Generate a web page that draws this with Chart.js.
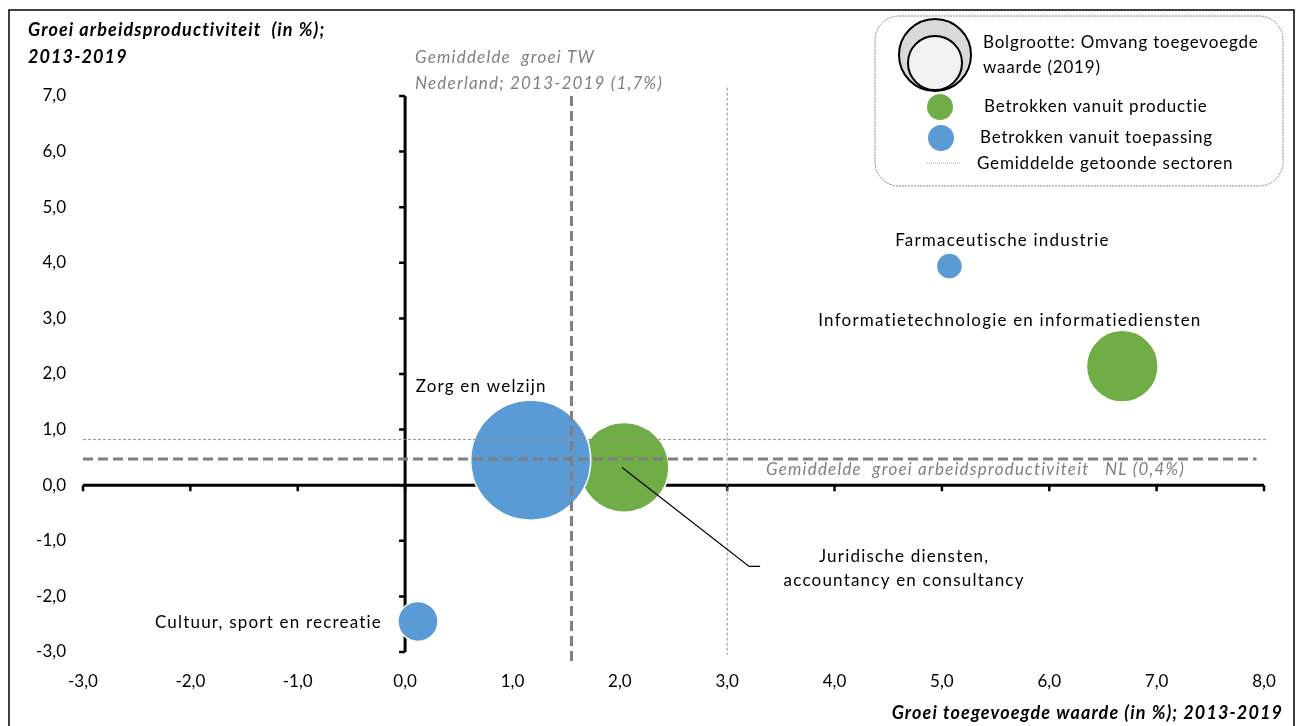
<!DOCTYPE html>
<html>
<head>
<meta charset="utf-8">
<script src="https://cdn.jsdelivr.net/npm/chart.js@4.4.1/dist/chart.umd.min.js"></script>
<style>
  html, body { margin: 0; padding: 0; background: #fff; }
  #wrap { width: 1300px; height: 726px; }
</style>
</head>
<body>
<div id="wrap"><canvas id="bubbleChart" width="1300" height="726"></canvas></div>
<script>
// data: groei 2013-2019 per sector
const sectoren = ['Cultuur, sport en recreatie', 'Zorg en welzijn', 'Juridische diensten, accountancy en consultancy', 'Farmaceutische industrie', 'Informatietechnologie en informatiediensten'];
const groeiTW = [0.12, 1.17, 2.04, 5.07, 6.68];      // groei toegevoegde waarde (%)
const groeiAP = [-2.45, 0.45, 0.32, 3.94, 2.14];     // groei arbeidsproductiviteit (%)
const omvangTW = [7.8, 70, 39, 3.3, 25];             // toegevoegde waarde 2019 (bolgrootte)
const betrokken = ['toepassing', 'toepassing', 'productie', 'toepassing', 'productie'];

const xTicks = [-3, -2, -1, 0, 1, 2, 3, 4, 5, 6, 7, 8];
const yTicks = [-3, -2, -1, 0, 1, 2, 3, 4, 5, 6, 7];

// referentielijnen
const gemTWNederland = [{ x: 1.55, y: 7.0 }, { x: 1.55, y: -3.2 }];
const gemAPNederland = [{ x: -3, y: 0.47 }, { x: 7.93, y: 0.47 }];
const gemTWSectoren = [{ x: 3.0, y: 7.15 }, { x: 3.0, y: -3.05 }];
const gemAPSectoren = [{ x: -3, y: 0.82 }, { x: 8.04, y: 0.82 }];

// label plaatsing t.o.v. bolmidden (px)
const labelPos = [
  { dx: -36, dy: 1, align: 'right' },
  { dx: -115, dy: -74, align: 'left' },
  { dx: 280, dy: 89, align: 'center' },
  { dx: 53, dy: -26, align: 'center' },
  { dx: -304, dy: -46, align: 'left' }
];
const labelLines = [
  ['Cultuur, sport en recreatie'],
  ['Zorg en welzijn'],
  ['Juridische diensten,', 'accountancy en consultancy'],
  ['Farmaceutische industrie'],
  ['Informatietechnologie en informatiediensten']
];

const GROEN = '#70AD47';
const BLAUW = '#5B9BD5';
const GRIJS = '#808080';
const FONT = 'Lato, "Open Sans", sans-serif';
const maxR = 60;
const maxOmvang = Math.max(...omvangTW);

function bubbels(groep) {
  const pts = [];
  sectoren.forEach((s, i) => {
    if (betrokken[i] === groep) {
      pts.push({ x: groeiTW[i], y: groeiAP[i], r: maxR * Math.sqrt(omvangTW[i] / maxOmvang), idx: i });
    }
  });
  return pts;
}

function fmt(v) {
  return v.toFixed(1).replace('.', ',');
}

// assen door nulpunt + kader
const assenPlugin = {
  id: 'assen',
  beforeDraw(chart) {
    const c = chart.ctx;
    c.save();
    c.strokeStyle = '#000';
    c.lineWidth = 1.5;
    c.beginPath();
    c.moveTo(9, 730);
    c.lineTo(9, 10);
    c.lineTo(1294, 10);
    c.lineTo(1294, 730);
    c.stroke();
    c.restore();
  },
  beforeDatasetsDraw(chart) {
    const c = chart.ctx;
    const xs = chart.scales.x, ys = chart.scales.y;
    const x0 = xs.getPixelForValue(0), y0 = ys.getPixelForValue(0);
    c.save();
    c.strokeStyle = '#000';
    c.lineWidth = 3;
    c.beginPath();
    c.moveTo(xs.left, y0); c.lineTo(xs.right, y0);
    c.moveTo(x0, ys.top); c.lineTo(x0, ys.bottom);
    c.stroke();
    c.lineWidth = 2.5;
    c.beginPath();
    xTicks.forEach(v => {
      const px = xs.getPixelForValue(v);
      c.moveTo(px, y0); c.lineTo(px, y0 + 6);
    });
    yTicks.forEach(v => {
      const py = ys.getPixelForValue(v);
      c.moveTo(x0, py); c.lineTo(x0 - 6, py);
    });
    c.stroke();
    c.restore();
  },
  afterDraw(chart) {
    const c = chart.ctx;
    const xs = chart.scales.x, ys = chart.scales.y;
    c.save();
    c.textBaseline = 'middle';

    // astitels
    c.fillStyle = '#000';
    c.font = 'italic bold 18px ' + FONT;
    c.letterSpacing = '1.1px';
    c.textAlign = 'left';
    c.fillText('Groei arbeidsproductiviteit  (in %);', 28, 30);
    c.fillText('2013-2019', 28, 57);
    c.textAlign = 'right';
    c.fillText('Groei toegevoegde waarde (in %); 2013-2019', 1283, 713);

    // annotaties referentielijnen
    c.fillStyle = GRIJS;
    c.font = 'italic 17px ' + FONT;
    c.letterSpacing = '1.2px';
    c.textAlign = 'left';
    c.fillText('Gemiddelde  groei TW', 415, 58);
    c.fillText('Nederland; 2013-2019 (1,7%)', 415, 84);
    c.fillText('Gemiddelde  groei arbeidsproductiviteit   NL (0,4%)', 766, 470);

    // sectorlabels
    c.fillStyle = '#000';
    c.font = '17px ' + FONT;
    sectoren.forEach((s, i) => {
      const px = xs.getPixelForValue(groeiTW[i]);
      const py = ys.getPixelForValue(groeiAP[i]);
      const p = labelPos[i];
      c.textAlign = p.align;
      labelLines[i].forEach((t, k) => c.fillText(t, px + p.dx, py + p.dy + k * 24));
    });

    // verbindingslijn juridische diensten
    const jx = xs.getPixelForValue(groeiTW[2]), jy = ys.getPixelForValue(groeiAP[2]);
    c.strokeStyle = '#000';
    c.lineWidth = 1.2;
    c.beginPath();
    c.moveTo(jx - 2, jy);
    c.lineTo(jx + 125, jy + 99);
    c.lineTo(jx + 136, jy + 99);
    c.stroke();

    // legenda
    c.strokeStyle = '#8a8a8a';
    c.lineWidth = 1;
    c.setLineDash([2, 1]);
    c.beginPath();
    c.roundRect(875, 16, 408, 170, 24);
    c.stroke();
    c.setLineDash([]);

    c.lineWidth = 2;
    c.strokeStyle = '#000';
    c.fillStyle = '#d9d9d9';
    c.beginPath(); c.arc(935, 55, 36, 0, Math.PI * 2); c.fill(); c.stroke();
    c.fillStyle = '#f2f2f2';
    c.beginPath(); c.arc(935, 63, 27, 0, Math.PI * 2); c.fill(); c.stroke();

    c.fillStyle = GROEN;
    c.beginPath(); c.arc(940, 107, 13, 0, Math.PI * 2); c.fill();
    c.fillStyle = BLAUW;
    c.beginPath(); c.arc(941, 138, 13, 0, Math.PI * 2); c.fill();

    c.strokeStyle = '#a0a0a0';
    c.lineWidth = 1;
    c.setLineDash([1, 1]);
    c.beginPath(); c.moveTo(927, 163); c.lineTo(960, 163); c.stroke();
    c.setLineDash([]);

    c.fillStyle = '#000';
    c.font = '17px ' + FONT;
    c.letterSpacing = '0.8px';
    c.textAlign = 'left';
    c.fillText('Bolgrootte: Omvang toegevoegde', 983, 43);
    c.fillText('waarde (2019)', 983, 68);
    c.fillText('Betrokken vanuit productie', 984, 107);
    c.fillText('Betrokken vanuit toepassing', 980, 138);
    c.fillText('Gemiddelde getoonde sectoren', 977, 164);
    c.restore();
  }
};

function refLijn(data, width, dash, color) {
  return {
    type: 'line',
    data: data,
    borderColor: color,
    borderWidth: width,
    borderDash: dash,
    pointRadius: 0,
    fill: false,
    clip: false
  };
}

const ctx = document.getElementById('bubbleChart').getContext('2d');
new Chart(ctx, {
  type: 'bubble',
  data: {
    datasets: [
      refLijn(gemTWNederland, 3, [10, 5], GRIJS),
      refLijn(gemAPNederland, 3, [10, 5], GRIJS),
      refLijn(gemTWSectoren, 1, [3, 2], '#909090'),
      refLijn(gemAPSectoren, 1, [3, 2], '#909090'),
      {
        label: 'Betrokken vanuit toepassing',
        data: bubbels('toepassing'),
        backgroundColor: BLAUW,
        borderColor: '#fff',
        borderWidth: 1.5
      },
      {
        label: 'Betrokken vanuit productie',
        data: bubbels('productie'),
        backgroundColor: GROEN,
        borderColor: '#fff',
        borderWidth: 1.5
      }
    ]
  },
  options: {
    responsive: false,
    animation: false,
    events: [],
    layout: { autoPadding: false, padding: { left: 0, top: 96, right: 36, bottom: 0 } },
    plugins: {
      legend: { display: false },
      tooltip: { enabled: false }
    },
    scales: {
      x: {
        type: 'linear',
        min: -3,
        max: 8,
        grid: { display: false, drawTicks: false },
        border: { display: false },
        afterFit: scale => {
          scale.height = 74;
          scale.paddingLeft = 0;
          scale.paddingRight = 0;
        },
        ticks: {
          stepSize: 1,
          padding: 19,
          color: '#000',
          font: { family: FONT, size: 17 },
          callback: v => fmt(v)
        }
      },
      y: {
        type: 'linear',
        min: -3,
        max: 7,
        grid: { display: false, drawTicks: false },
        border: { display: false },
        afterFit: scale => {
          scale.width = 83;
          scale.paddingTop = 0;
          scale.paddingBottom = 0;
        },
        ticks: {
          stepSize: 1,
          padding: 17,
          color: '#000',
          font: { family: FONT, size: 17 },
          callback: v => fmt(v)
        }
      }
    }
  },
  plugins: [assenPlugin]
});
</script>
</body>
</html>
